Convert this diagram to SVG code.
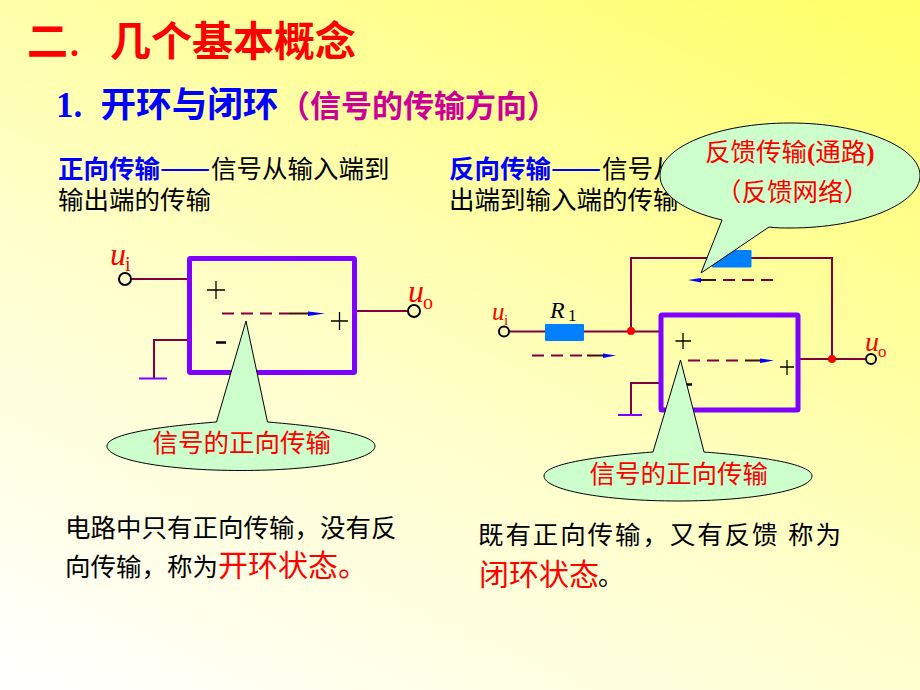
<svg xmlns="http://www.w3.org/2000/svg" width="920" height="690" viewBox="0 0 920 690">
<style>
text{font-family:"Noto Sans CJK SC","Liberation Sans",sans-serif}
.t{font-size:25.5px;fill:#000}
.bl{font-weight:700;fill:#0000ff}
.r{fill:#ff0000}
.dash{fill:#0000ff;font-size:30px}
.lat{font-family:"Liberation Serif",serif}
.u{font-family:"Liberation Serif",serif;font-style:italic;fill:#ff0000}
.sub{font-family:"Liberation Serif",serif;font-style:normal;fill:#ff0000}
.w{fill:none;stroke:#800040;stroke-width:2}
.d{fill:none;stroke:#800040;stroke-width:2;stroke-dasharray:12 7}
.s{fill:none;stroke:#401000;stroke-width:2}
.box{fill:none;stroke:#7f00ff;stroke-width:5;stroke-linejoin:round}
.g{fill:none;stroke:#7f00ff;stroke-width:2}
.c{fill:none;stroke:#000;stroke-width:2}
.res{fill:#0080ff}
.dot{fill:#ff0000}
.call{fill:#ccffcc;stroke:#000;stroke-width:1}
.a{fill:#0000ff}
.pm{stroke:#000;stroke-width:1.3;fill:none}
</style>
<defs>
<linearGradient id="bg" gradientUnits="userSpaceOnUse" x1="0" y1="690" x2="429" y2="-229">
<stop offset="0" stop-color="#ffffff"/><stop offset="0.42" stop-color="#ffffcc"/><stop offset="1" stop-color="#ffff66"/>
</linearGradient>
</defs>
<rect width="920" height="690" fill="url(#bg)"/>
<g id="title">
<text y="56" font-size="41" font-weight="700" class="r"><tspan x="27">二</tspan><tspan x="70" font-size="36" class="lat">.</tspan><tspan x="110">几个基本概念</tspan></text>
</g>
<g id="subtitle">
<text y="116.500" class="bl"><tspan x="56" font-size="35" class="lat">1.</tspan><tspan x="100.500" font-size="35.600">开环与闭环</tspan><tspan x="279" font-size="31" fill="#cc0099">（信号的传输方向）</tspan></text>
</g>
<g id="forward-text">
<text y="178" class="t"><tspan x="58" class="bl">正向传输</tspan><tspan x="160" class="dash">——</tspan><tspan x="211">信号从输入端到</tspan></text>
<text x="58" y="209" class="t">输出端的传输</text>
</g>
<g id="reverse-text">
<text y="178" class="t"><tspan x="449" class="bl">反向传输</tspan><tspan x="551" class="dash">——</tspan><tspan x="602">信号从输</tspan></text>
<text x="449" y="209" class="t">出端到输入端的传输</text>
</g>
<g id="connectors">
<path class="w" d="M131 279H188"/>
<path class="w" d="M356 311H408"/>
<path class="w" d="M188 340H154V378"/>
<path class="g" d="M139 378.500H167"/>
<path class="d" d="M222 313.500H289"/>
<path class="s" d="M289 313.500H309"/>
<path class="w" d="M510 331.500H545M584 331.500H661"/>
<path class="w" d="M631 331V258H832V359"/>
<path class="w" d="M798 359H866"/>
<path class="w" d="M661 383H631V415"/>
<path class="g" d="M618 415H642"/>
<path class="d" d="M532 355.500H587"/>
<path class="s" d="M587 355.500H605"/>
<path class="d" d="M688 360.500H745"/>
<path class="s" d="M745 360.500H762"/>
<path class="d" d="M773 280H716"/>
<path class="s" d="M716 280H700"/>
</g>
<g id="amp-open">
<rect class="box" x="189.500" y="258.500" width="165" height="114" rx="1"/>
<path class="pm" d="M207 290H225M216 281V299"/>
<path d="M216 342.500H226" stroke="#000" stroke-width="2.500"/>
<path class="pm" d="M331 321H348M339.500 312V330"/>
<path class="a" d="M308 311.500L325 313.500L308 316Z"/>
</g>
<g id="ui-open">
<circle class="c" cx="125" cy="279" r="6"/>
<text y="265" font-size="32" class="u"><tspan x="110">u</tspan><tspan x="125" dy="6" font-size="20" class="sub">i</tspan></text>
</g>
<g id="uo-open">
<circle class="c" cx="414" cy="311" r="6"/>
<text y="302" font-size="32" class="u"><tspan x="408">u</tspan><tspan x="423" dy="7" font-size="20" class="sub">o</tspan></text>
</g>
<g id="callout-open">
<path class="call" d="M246 321L267.500 422C304 425 375 432 375 446C375 460 315 470.500 241 470.500C167 470.500 107 460 107 446C107 432 178 425 216.500 422Z"/>
<text x="152.500" y="451.500" class="t r">信号的正向传输</text>
</g>
<g id="r1">
<rect class="res" x="545" y="324" width="39" height="17" rx="1"/>
<text y="318" font-size="24" font-style="italic" class="lat"><tspan x="550">R</tspan><tspan x="568" dy="3" font-size="17" font-style="normal">1</tspan></text>
</g>
<g id="rf"><rect class="res" x="712" y="250" width="39.500" height="17.500" rx="1"/></g>
<g id="amp-closed">
<rect class="box" x="661" y="315" width="137" height="95" rx="1"/>
<path class="pm" d="M675.500 341H691M683 333V349"/>
<path d="M684 384.500H692" stroke="#000" stroke-width="2.500"/>
<path class="pm" d="M780 367H794M787 360V375"/>
<path class="a" d="M760 358.500L774 360.500L760 363Z"/>
</g>
<g id="arrows">
<path class="a" d="M603 353.500L616 355.500L603 358Z"/>
<path class="a" d="M701 278L688 280L701 282.500Z"/>
</g>
<g id="node1"><circle class="dot" cx="631" cy="331" r="4"/></g>
<g id="node2"><circle class="dot" cx="832" cy="359" r="4"/></g>
<g id="ui-closed">
<circle class="c" cx="504" cy="331.500" r="5"/>
<text y="320" font-size="25" class="u"><tspan x="492">u</tspan><tspan x="504" dy="5" font-size="15" class="sub">i</tspan></text>
</g>
<g id="uo-closed">
<circle class="c" cx="871" cy="359" r="5"/>
<text y="351" font-size="28" class="u"><tspan x="865">u</tspan><tspan x="878" dy="6" font-size="17" class="sub">o</tspan></text>
</g>
<g id="callout-closed">
<path class="call" d="M680.500 360L704 452C743 455 812 462 812 476C812 490 752 501 678 501C604 501 544 490 544 476C544 462 614 455 653 452Z"/>
<text x="589.500" y="482.500" class="t r">信号的正向传输</text>
</g>
<g id="callout-feedback">
<path class="call" d="M701 273L722 220C683 211 660 194 660 175.500C660 147 718 123 790 123C862 123 920 147 920 175.500C920 204 862 228 790 228C783 228 776 228 769 227Z"/>
<text y="161" class="t r"><tspan x="705">反馈传输</tspan><tspan font-size="25" font-weight="700" class="lat">(</tspan><tspan>通路</tspan><tspan font-size="25" font-weight="700" class="lat">)</tspan></text>
<text x="716" y="201" class="t r">（反馈网络）</text>
</g>
<g id="open-note">
<text x="65" y="537" class="t">电路中只有正向传输，没有反</text>
<text y="576" class="t"><tspan x="65">向传输，称为</tspan><tspan x="218" font-size="30" class="r">开环状态。</tspan></text>
</g>
<g id="closed-note">
<text y="544" font-size="25.500" letter-spacing="1.900"><tspan x="478">既有正向传输，又有反馈</tspan><tspan x="788">称为</tspan></text>
<text y="585" font-size="30"><tspan x="479" class="r">闭环状态</tspan><tspan x="598" font-size="25.500">。</tspan></text>
</g>
</svg>
